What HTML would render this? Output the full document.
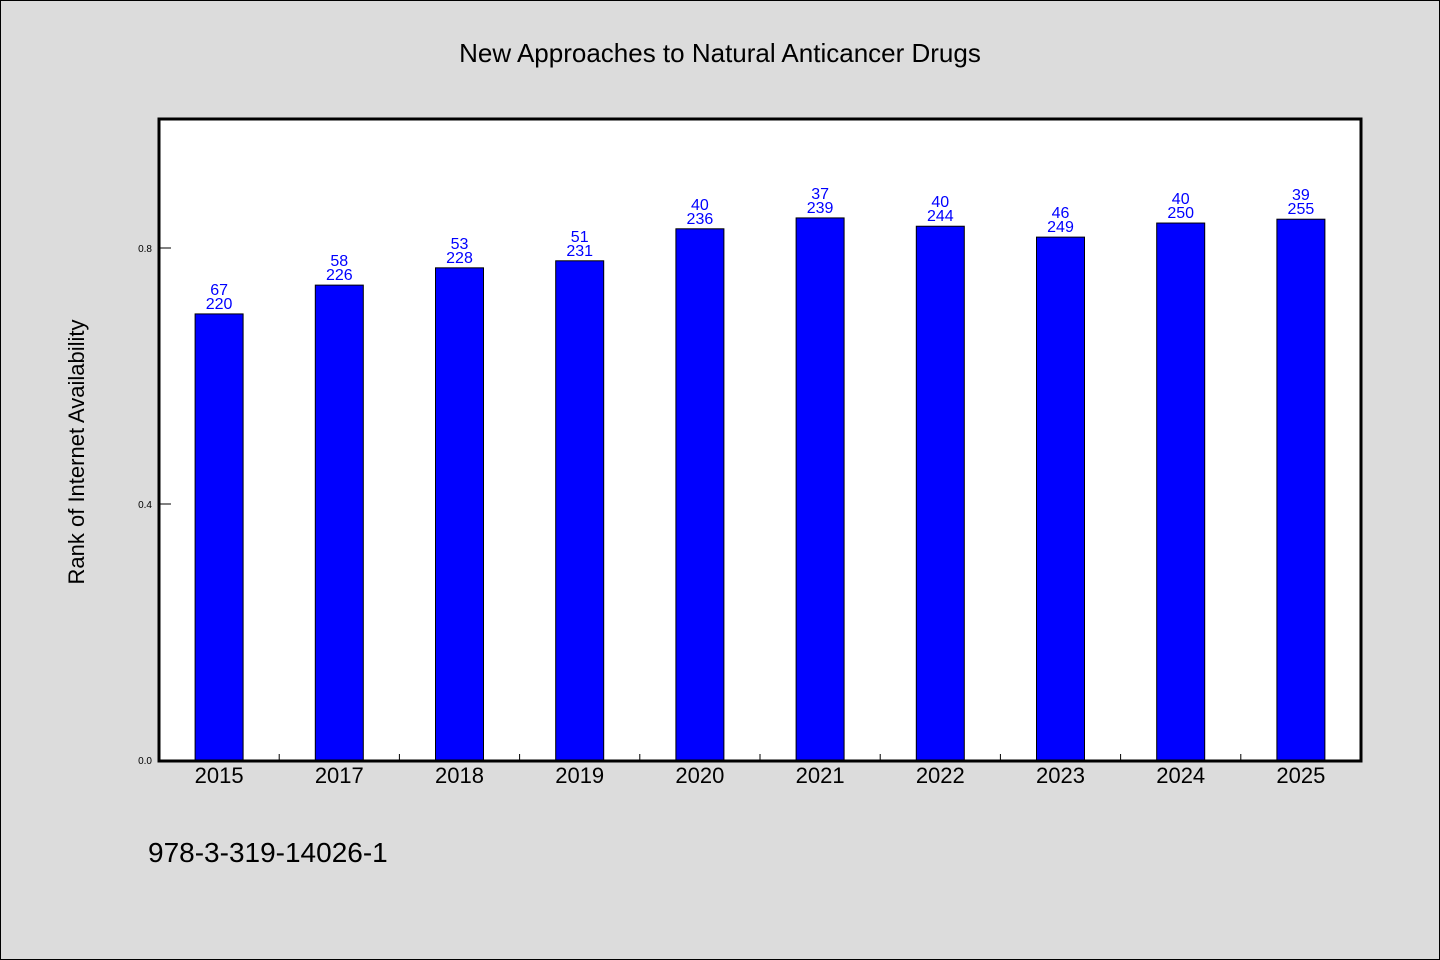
<!DOCTYPE html>
<html><head><meta charset="utf-8"><style>
body{margin:0;background:#dcdcdc}
svg{display:block}
text{font-family:"WenQuanYi Zen Hei","Liberation Sans",sans-serif}
</style></head><body>
<svg id="c" width="1440" height="960" xmlns="http://www.w3.org/2000/svg">
<rect x="0.5" y="0.5" width="1439" height="959" fill="#dcdcdc" stroke="#000"/>
<text x="720" y="62" text-anchor="middle" font-size="26">New Approaches to Natural Anticancer Drugs</text>
<rect x="159" y="119" width="1202" height="642" fill="#fff"/>
<g id="bars"></g>
<g id="axes"></g>
<rect x="159" y="119" width="1202" height="642" fill="none" stroke="#000" stroke-width="3"/>
<text transform="translate(84,452) rotate(-90)" text-anchor="middle" font-size="22">Rank of Internet Availability</text>
<text x="148" y="862" font-size="28">978-3-319-14026-1</text>
</svg>
<script>
const categories=["2015","2017","2018","2019","2020","2021","2022","2023","2024","2025"];
const values=[0.697,0.742,0.769,0.780,0.830,0.847,0.834,0.817,0.839,0.845];
const labelTop=["67","58","53","51","40","37","40","46","40","39"];
const labelBottom=["220","226","228","231","236","239","244","249","250","255"];
const yTicks=[0,0.4,0.8];
const NS="http://www.w3.org/2000/svg";
const x0=159,x1=1361,yb=760,yt=120,yMax=1.0;
const y=v=>yb-(v/yMax)*(yb-yt);
const step=(x1-x0)/categories.length;
const xc=i=>x0+step*(i+0.5);
function mk(tag,attrs,parent,txt){const e=document.createElementNS(NS,tag);for(const k in attrs)e.setAttribute(k,attrs[k]);if(txt!==undefined)e.textContent=txt;parent.appendChild(e);return e;}
const bars=document.getElementById('bars'),axes=document.getElementById('axes');
categories.forEach((c,i)=>{
  const b=mk('rect',{x:xc(i)-24,y:y(values[i]),width:48,height:yb-y(values[i]),fill:'#0000ff',stroke:'#000','stroke-width':1},bars);
  
  
  const t1=mk('text',{x:xc(i),y:y(values[i])-19,'text-anchor':'middle','font-size':16,fill:'#0000ff'},bars,labelTop[i]);
  
  
  const t2=mk('text',{x:xc(i),y:y(values[i])-5,'text-anchor':'middle','font-size':16,fill:'#0000ff'},bars,labelBottom[i]);
  
  
  const xl=mk('text',{x:xc(i),y:783,'text-anchor':'middle','font-size':22},axes,c);
  
  
  if(i>0){const tk=mk('line',{x1:x0+step*i,x2:x0+step*i,y1:yb,y2:yb-6,stroke:'#000'},axes);
  
  }
});
yTicks.forEach(v=>{
  const tk=mk('line',{x1:x0,x2:x0+12,y1:y(v),y2:y(v),stroke:'#000'},axes);
  
  
  const tl=mk('text',{x:152,y:y(v)+4,'text-anchor':'end','font-size':10},axes,v.toFixed(1));
  
  
});
</script>
</body></html>
